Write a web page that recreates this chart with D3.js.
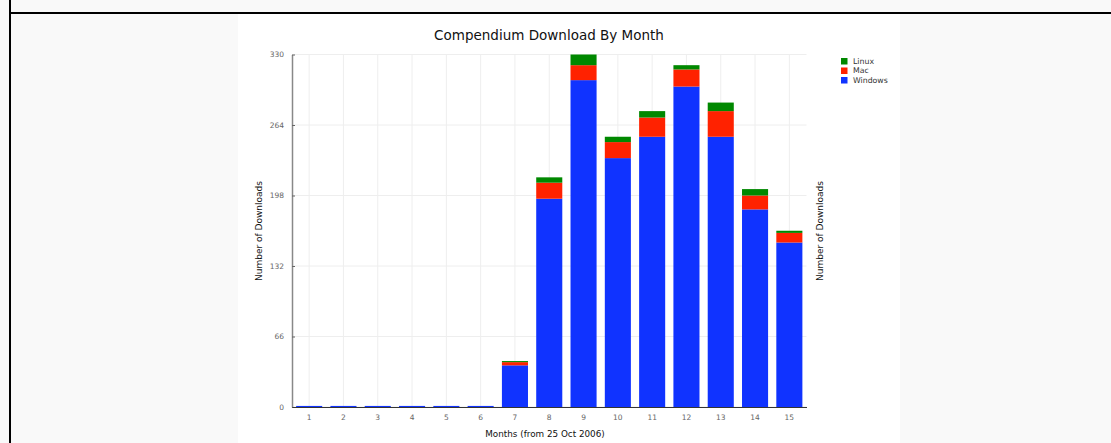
<!DOCTYPE html>
<html><head><meta charset="utf-8">
<script src="https://cdn.jsdelivr.net/npm/d3@7"></script>
<style>
html,body{margin:0;padding:0;background:#f9f9f9;overflow:hidden}
svg{display:block;font-family:"DejaVu Sans",sans-serif}
</style></head>
<body>
<svg id="c" width="1111" height="443"></svg>
<script>
const months = ["1","2","3","4","5","6","7","8","9","10","11","12","13","14","15"];
const windows = [1,1,1,1,1,1,39,195,306,233,253,300,253,185,154];
const mac     = [0,0,0,0,0,0,3,15,14,15,18,16,24,13,9];
const linux   = [0,0,0,0,0,0,1,5,10,5,6,4,8,6,2];
const seriesNames = ["Windows","Mac","Linux"];
const seriesColors = ["#1033ff","#ff2200","#008800"];
const yTicks = [0,66,132,198,264,330];
const title = "Compendium Download By Month";
const xTitle = "Months (from 25 Oct 2006)";
const yTitle = "Number of Downloads";

const svg = d3.select("#c");
// page frame
svg.append("rect").attr("x",0).attr("y",0).attr("width",1111).attr("height",443).attr("fill","#f9f9f9");
svg.append("rect").attr("x",238).attr("y",14).attr("width",662).attr("height",429).attr("fill","#fff");
svg.append("rect").attr("x",9).attr("y",12).attr("width",1102).attr("height",2).attr("fill","#000");
svg.append("rect").attr("x",9).attr("y",0).attr("width",2).attr("height",443).attr("fill","#000");

const L=292, R=806.5, T=54.5, B=407;
const x = d3.scaleBand().domain(months).range([L,R]).paddingInner(0.24).paddingOuter(0.12);
const y = d3.scaleLinear().domain([0,330]).range([B,T]);

// grid
const g = svg.append("g");
g.selectAll("line.h").data(yTicks).join("line")
  .attr("x1",L).attr("x2",R).attr("y1",d=>y(d)).attr("y2",d=>y(d))
  .attr("stroke","#eeeeee").attr("stroke-width",1);
g.selectAll("line.v").data(months).join("line")
  .attr("x1",d=>x(d)+x.bandwidth()/2).attr("x2",d=>x(d)+x.bandwidth()/2)
  .attr("y1",T).attr("y2",B).attr("stroke","#eeeeee").attr("stroke-width",1);

// stacked bars
const table = months.map((m,i)=>({month:m, Windows:windows[i], Mac:mac[i], Linux:linux[i]}));
const stack = d3.stack().keys(seriesNames)(table);
svg.append("g").selectAll("g").data(stack).join("g")
  .attr("fill",(d,i)=>seriesColors[i])
  .selectAll("rect").data(d=>d).join("rect")
  .attr("x",d=>x(d.data.month)).attr("width",x.bandwidth())
  .attr("y",d=>y(d[1])).attr("height",d=>y(d[0])-y(d[1]));

// y axis
const ya = svg.append("g").attr("transform",`translate(${L},0)`)
  .call(d3.axisLeft(y).tickValues(yTicks).tickSizeInner(-3).tickSizeOuter(0).tickPadding(8));
ya.select(".domain").attr("stroke","#888").attr("stroke-width",1.5);
ya.selectAll(".tick line").attr("stroke","#666");
ya.selectAll("text").attr("font-size","7.5px").attr("fill","#666").attr("font-family","DejaVu Sans");

// x axis
const xa = svg.append("g").attr("transform",`translate(0,${B})`)
  .call(d3.axisBottom(x).tickSize(0).tickPadding(8));
xa.select(".domain").attr("stroke","#333").attr("stroke-width",1);
xa.selectAll("text").attr("font-size","7.5px").attr("fill","#666").attr("font-family","DejaVu Sans");

// titles
svg.append("text").attr("x",549).attr("y",40).attr("text-anchor","middle")
  .attr("font-size","13.5px").attr("fill","#111").text(title);
svg.append("text").attr("x",545).attr("y",436.5).attr("text-anchor","middle")
  .attr("font-size","8.8px").attr("fill","#111").text(xTitle);
svg.append("text").attr("transform","translate(262,231) rotate(-90)").attr("text-anchor","middle")
  .attr("font-size","9px").attr("fill","#111").text(yTitle);
svg.append("text").attr("transform","translate(823,231) rotate(-90)").attr("text-anchor","middle")
  .attr("font-size","9px").attr("fill","#111").text(yTitle);

// legend
const legOrder = ["Linux","Mac","Windows"];
const lg = svg.append("g").selectAll("g").data(legOrder).join("g")
  .attr("transform",(d,i)=>`translate(841,${58+i*9.5})`);
lg.append("rect").attr("width",6.5).attr("height",6.5)
  .attr("fill",d=>seriesColors[seriesNames.indexOf(d)]);
lg.append("text").attr("x",12).attr("y",5.8).attr("font-size","7.8px").attr("fill","#333").text(d=>d);
</script>
</body></html>
